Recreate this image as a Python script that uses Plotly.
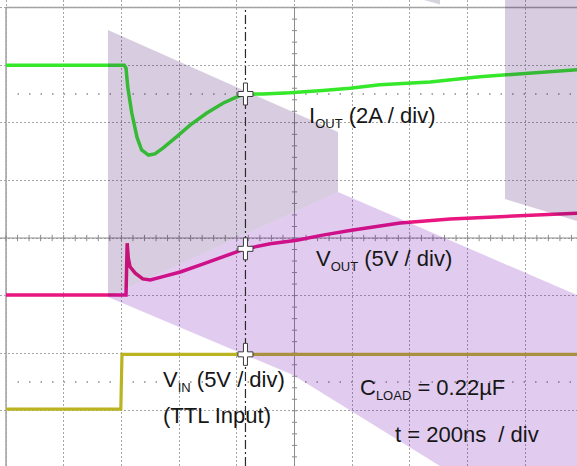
import numpy as np
import plotly.graph_objects as go

# ---- data, in screen divisions (x: 0 = left graticule edge, y: 0 = centre line)
iout_x = [0.00, 2.05, 2.08, 2.11, 2.18, 2.27, 2.35, 2.47, 2.58, 2.72, 2.96, 3.19, 3.48,
          3.76, 4.00, 4.14, 4.45, 4.92, 5.49, 5.96, 6.48, 7.35, 8.21, 9.08, 9.90]
iout_div = [3.00, 3.00, 2.95, 2.62, 2.17, 1.75, 1.53, 1.44, 1.46, 1.56, 1.76, 1.96, 2.17,
            2.34, 2.45, 2.50, 2.50, 2.52, 2.56, 2.60, 2.66, 2.71, 2.80, 2.86, 2.92]

vout_x = [0.00, 2.08, 2.10, 2.12, 2.15, 2.24, 2.37, 2.50, 2.72, 3.02, 3.36, 3.76, 4.14,
          4.58, 5.04, 5.49, 5.96, 6.83, 7.70, 8.56, 9.90]
vout_div = [-0.99, -0.99, -0.09, -0.35, -0.50, -0.61, -0.71, -0.73, -0.67, -0.59, -0.47,
            -0.33, -0.19, -0.10, -0.04, 0.05, 0.13, 0.26, 0.33, 0.37, 0.43]

vin_x = [0.00, 1.99, 2.01, 9.90]
vin_div = [-2.97, -2.97, -2.02, -2.02]

cursor_x = 4.15
cursor_levels = [2.5, -2.5]

SUB = '<sub><span style="font-size:13px">{}</span></sub>'
labels = ["I" + SUB.format("OUT") + " (2A / div)", "V" + SUB.format("OUT") + " (5V / div)",
          "V" + SUB.format("IN") + " (5V / div)", "(TTL Input)",
          "C" + SUB.format("LOAD") + " = 0.22µF", "t = 200ns \u00a0/ div"]

# ---- pixel helpers (layout only)
PX_X, PX_Y = 57.7, 57.6
def X(px):
    return (px - 6) / PX_X
def Y(py):
    return (238 - py) / PX_Y

XR = [X(0), X(577)]
YR = [Y(466), Y(0)]

fig = go.Figure()

# ---- centre axes with minor ticks
tx, ty = [], []
for xv in np.arange(0, 10.01, 0.2):
    tx += [xv, xv, None]
    ty += [-0.055, 0.055, None]
for yv in np.arange(-4, 4.01, 0.2):
    tx += [5 - 0.045, 5 + 0.045, None]
    ty += [yv, yv, None]
tx += [XR[0], XR[1], None, 5, 5, None]
ty += [0, 0, None, YR[0], 4, None]
fig.add_trace(go.Scatter(x=tx, y=ty, mode="lines", line=dict(color="#8c8c8c", width=1),
                         hoverinfo="skip", showlegend=False))

# ---- traces
fig.add_trace(go.Scatter(x=vin_x, y=vin_div, mode="lines",
                         line=dict(color="#bab422", width=3.2), showlegend=False))
fig.add_trace(go.Scatter(x=vout_x, y=vout_div, mode="lines",
                         line=dict(color="#e8167e", width=3.5), showlegend=False))
fig.add_trace(go.Scatter(x=iout_x, y=iout_div, mode="lines",
                         line=dict(color="#35e82a", width=3.5), showlegend=False))

shapes = []
# graticule border (top and left)
shapes.append(dict(type="line", xref="x", yref="y", x0=0, x1=XR[1], y0=4, y1=4,
                   line=dict(color="#a0a0a0", width=1.5), layer="below"))
shapes.append(dict(type="line", xref="x", yref="y", x0=0, x1=0, y0=YR[0], y1=4,
                   line=dict(color="#a0a0a0", width=1.5), layer="below"))
# cursor level dotted lines
for lv in cursor_levels:
    shapes.append(dict(type="line", xref="x", yref="y", x0=0.2, x1=XR[1], y0=lv, y1=lv,
                       line=dict(color="#8a8a8a", width=1.5, dash="1.5px,10px"), layer="below"))

def poly(pts):
    s = "M " + " L ".join(f"{X(a):.4f},{Y(b):.4f}" for a, b in pts) + " Z"
    return s

# watermark overlay (multiply-like tint)
dark = "rgba(60,5,100,0.2)"
light = "rgba(105,0,180,0.2)"
shapes.append(dict(type="path", xref="x", yref="y", layer="above", line=dict(width=0),
                   fillcolor=dark, path=poly([(108, 30), (338, 132), (338, 192), (108, 297)])))
shapes.append(dict(type="path", xref="x", yref="y", layer="above", line=dict(width=0),
                   fillcolor=light, path=poly([(108, 297), (338, 192), (577, 295), (577, 466),
                                               (440, 466), (293, 375)])))
shapes.append(dict(type="path", xref="x", yref="y", layer="above", line=dict(width=0),
                   fillcolor=dark, path=poly([(505, 0), (577, 0), (577, 221), (505, 199)])))
shapes.append(dict(type="path", xref="x", yref="y", layer="above", line=dict(width=0),
                   fillcolor="rgba(40,40,90,0.2)", path=poly([(424, 0), (440, 0), (440, 4.5)])))

# cursor line
shapes.append(dict(type="line", xref="x", yref="y", x0=cursor_x, x1=cursor_x, y0=YR[0], y1=4,
                   line=dict(color="#2a2a2a", width=1.2, dash="9px,3px,2px,3px"), layer="above"))

# crosshair markers where the cursor meets each trace
def cross_path(xc, yc):
    pts = [(-2, 11), (2, 11), (2, 2.5), (7.5, 2.5), (7.5, -2.5), (2, -2.5), (2, -11),
           (-2, -11), (-2, -2.5), (-7.5, -2.5), (-7.5, 2.5), (-2, 2.5)]
    return "M " + " L ".join(f"{xc + a / PX_X:.4f},{yc + b / PX_Y:.4f}" for a, b in pts) + " Z"

for xs, ys in [(iout_x, iout_div), (vout_x, vout_div), (vin_x, vin_div)]:
    yc = float(np.interp(cursor_x, xs, ys))
    shapes.append(dict(type="path", xref="x", yref="y", layer="above",
                       path=cross_path(cursor_x, yc), fillcolor="white",
                       line=dict(color="#3a3a3a", width=1)))

# ---- text
label_pos = [(307, 117), (314, 260), (161, 381), (161, 415), (358, 389), (393, 434)]
annotations = []
for txt, (px, py) in zip(labels, label_pos):
    annotations.append(dict(x=X(px), y=Y(py), xref="x", yref="y", text=txt, showarrow=False,
                            xanchor="left", yanchor="middle",
                            font=dict(family="Liberation Sans, Arial", size=22, color="#161616")))

fig.update_layout(
    width=577, height=466, autosize=False,
    margin=dict(l=0, r=0, t=0, b=0),
    paper_bgcolor="white", plot_bgcolor="white",
    shapes=shapes, annotations=annotations, showlegend=False,
    xaxis=dict(range=XR, tick0=0, dtick=1, showgrid=True, gridcolor="#a6a6a6", gridwidth=1,
               griddash="2px,2px", zeroline=False, showticklabels=False, ticks="",
               fixedrange=True, showline=False),
    yaxis=dict(range=YR, tick0=0, dtick=1, showgrid=True, gridcolor="#a6a6a6", gridwidth=1,
               griddash="2px,2px", zeroline=False, showticklabels=False, ticks="",
               fixedrange=True, showline=False),
)

fig.write_html("out.html", config={"displayModeBar": False},
               post_script="document.body.style.margin='0';document.body.style.overflow='hidden';")
